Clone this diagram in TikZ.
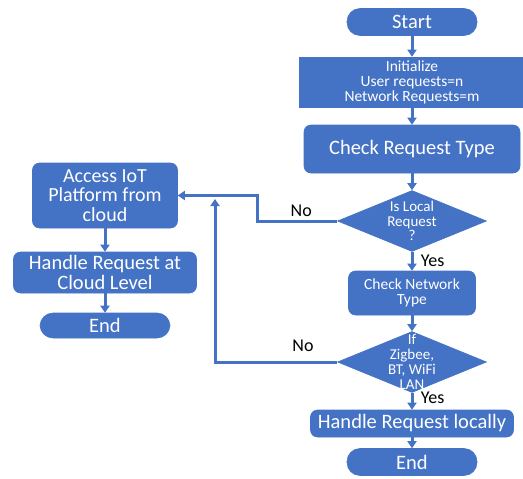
\documentclass[tikz,border=0pt]{standalone}
\usepackage{fontspec}
\setmainfont{Carlito}
\usetikzlibrary{arrows.meta,shapes.geometric}

\definecolor{flowblue}{HTML}{4472C4}

\begin{document}
\begin{tikzpicture}[x=1pt,y=1pt,->,>={Triangle[length=7pt,width=9pt]},
                    line width=3pt,draw=flowblue,
                    box/.style={draw=flowblue,fill=flowblue,line width=0.6pt,text=white,align=center,inner sep=2pt},
                    term/.style={box,rounded corners=13pt,minimum width=130pt,minimum height=27pt,font=\fontsize{20.5}{20}\selectfont},
                    init box/.style={box,minimum width=225pt,minimum height=50pt,font=\fontsize{15.5}{15}\selectfont},
                    process/.style={box,rounded corners=7pt,font=\fontsize{20.5}{20}\selectfont},
                    small process/.style={process,font=\fontsize{15.5}{15}\selectfont},
                    decision/.style={box,diamond,minimum width=149pt,minimum height=61pt,inner sep=0pt},
                    decision text/.style={text=white,align=center,inner sep=0pt,font=\fontsize{15}{14.8}\selectfont},
                    answer/.style={text=black,font=\fontsize{18}{18}\selectfont}]

  \useasboundingbox (0,0) rectangle (523,-479);

  % right column
  \node[term] (start) at (412,-22) {Start};
  \node[init box] (init) [below of=start, node distance=60pt] {Initialize\\User requests=n\\Network Requests=m};
  \node[process, minimum width=216pt, minimum height=48pt] (check) [below of=init, node distance=67pt] {Check Request Type};
  \node[decision] (islocal) [below of=check, node distance=72pt] {};
  \node[decision text] (islocaltext) at (islocal) {Is Local\\Request\\?};
  \node[small process, minimum width=127pt, minimum height=44pt] (netcheck) [below of=islocal, node distance=72pt] {Check Network\\Type};
  \node[decision] (iflan) [below of=netcheck, node distance=69pt] {};
  \node[decision text] (iflantext) at (iflan) {If\\Zigbee,\\BT, WiFi\\LAN};
  \node[process, minimum width=203pt, minimum height=27pt] (local) [below of=iflan, node distance=61.5pt] {Handle Request locally};
  \node[term] (endlocal) [below of=local, node distance=38.5pt] {End};

  % left column
  \node[process, minimum width=145pt, minimum height=65pt, font=\fontsize{20}{19.5}\selectfont] (access) at (105,-195.5) {Access IoT\\Platform from\\cloud};
  \node[process, minimum width=183pt, minimum height=41pt] (cloud) [below of=access, node distance=77pt] {Handle Request at\\Cloud Level};
  \node[term, minimum height=25pt] (endcloud) [below of=cloud, node distance=53pt] {End};

  \coordinate (merge) at (215,-199);

  \draw (start) -- (init);
  \draw (init) -- (check);
  \draw (check) -- (islocal);
  \draw (islocal) -- node[answer, right, xshift=4pt] {Yes} (netcheck);
  \draw (netcheck) -- (iflan);
  \draw (iflan) -- node[answer, right, xshift=4pt, yshift=3pt] {Yes} (local);
  \draw (local) -- (endlocal);
  \draw (islocal.west) -- node[answer, above, pos=0.45] {No} ++(-80pt,0) |- (access.east);
  \draw (iflan.west) -| node[answer, above, pos=0.14, yshift=6pt] {No} (merge);
  \draw (access) -- (cloud);
  \draw (cloud) -- (endcloud);
\end{tikzpicture}
\end{document}
